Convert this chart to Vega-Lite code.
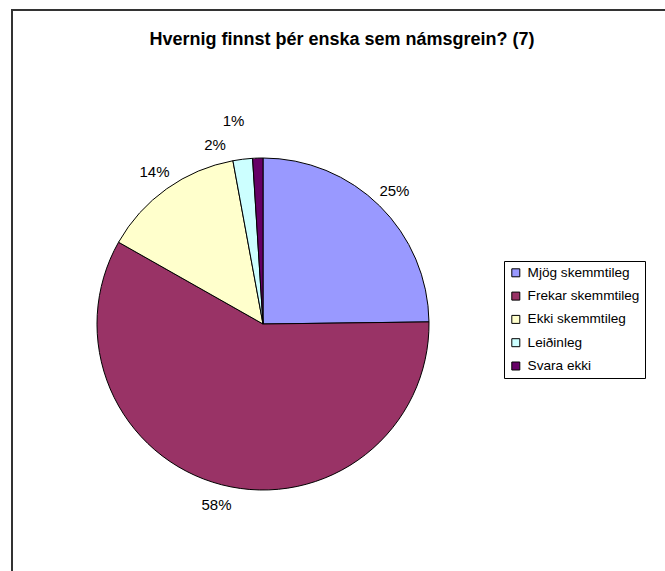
{
  "$schema": "https://vega.github.io/schema/vega-lite/v6.json",
  "autosize": "none",
  "width": 660,
  "height": 570,
  "padding": {"left": 12, "top": 10, "right": 0, "bottom": 0},
  "background": "white",
  "view": {"stroke": "#333333", "strokeWidth": 2},
  "title": {
    "text": "Hvernig finnst þér enska sem námsgrein? (7)",
    "anchor": "middle",
    "frame": "group",
    "orient": "top",
    "offset": 0,
    "baseline": "alphabetic",
    "dy": 53,
    "font": "Liberation Sans",
    "fontSize": 18,
    "fontWeight": "bold",
    "color": "black"
  },
  "config": {
    "view": {"stroke": "#333333", "strokeWidth": 2},
    "font": "Liberation Sans"
  },
  "data": {
    "values": [
      {"svar": "Mjög skemmtileg", "hlutfall": 24.8, "label": "25%", "rod": 1},
      {"svar": "Frekar skemmtileg", "hlutfall": 58.4, "label": "58%", "rod": 2},
      {"svar": "Ekki skemmtileg", "hlutfall": 13.9, "label": "14%", "rod": 3},
      {"svar": "Leiðinleg", "hlutfall": 1.9, "label": "2%", "rod": 4},
      {"svar": "Svara ekki", "hlutfall": 1.0, "label": "1%", "rod": 5}
    ]
  },
  "encoding": {
    "theta": {"field": "hlutfall", "type": "quantitative", "stack": true},
    "order": {"field": "rod", "type": "quantitative", "sort": "ascending"},
    "color": {
      "field": "svar",
      "type": "nominal",
      "sort": ["Mjög skemmtileg", "Frekar skemmtileg", "Ekki skemmtileg", "Leiðinleg", "Svara ekki"],
      "scale": {
        "domain": ["Mjög skemmtileg", "Frekar skemmtileg", "Ekki skemmtileg", "Leiðinleg", "Svara ekki"],
        "range": ["#9999FF", "#993366", "#FFFFCC", "#CCFFFF", "#660066"]
      },
      "legend": {
        "title": null,
        "orient": "none",
        "legendX": 492,
        "legendY": 251,
        "strokeColor": "black",
        "padding": 5,
        "symbolType": "square",
        "symbolSize": 64,
        "symbolStrokeColor": "black",
        "symbolStrokeWidth": 1,
        "symbolOpacity": 1,
        "labelFont": "Liberation Sans",
        "labelFontSize": 13.6,
        "labelColor": "black",
        "labelOffset": 5,
        "rowPadding": 8.3,
        "labelLimit": 200
      }
    }
  },
  "layer": [
    {
      "mark": {"type": "arc", "outerRadius": 166, "x": 251, "y": 314, "stroke": "black", "strokeWidth": 1}
    },
    {
      "mark": {"type": "text", "radius": 187, "x": 251, "y": 314, "font": "Liberation Sans", "fontSize": 15, "fill": "black", "align": "center", "baseline": "middle"},
      "encoding": {
        "text": {"condition": {"test": "datum.hlutfall > 5", "field": "label"}, "value": ""}
      }
    },
    {
      "mark": {"type": "text", "radius": 180, "dx": -26, "x": 251, "y": 314, "font": "Liberation Sans", "fontSize": 15, "fill": "black", "align": "center", "baseline": "middle"},
      "encoding": {
        "text": {"condition": {"test": "datum.svar == 'Leiðinleg'", "field": "label"}, "value": ""}
      }
    },
    {
      "mark": {"type": "text", "radius": 203, "dx": -23, "x": 251, "y": 314, "font": "Liberation Sans", "fontSize": 15, "fill": "black", "align": "center", "baseline": "middle"},
      "encoding": {
        "text": {"condition": {"test": "datum.svar == 'Svara ekki'", "field": "label"}, "value": ""}
      }
    }
  ]
}
